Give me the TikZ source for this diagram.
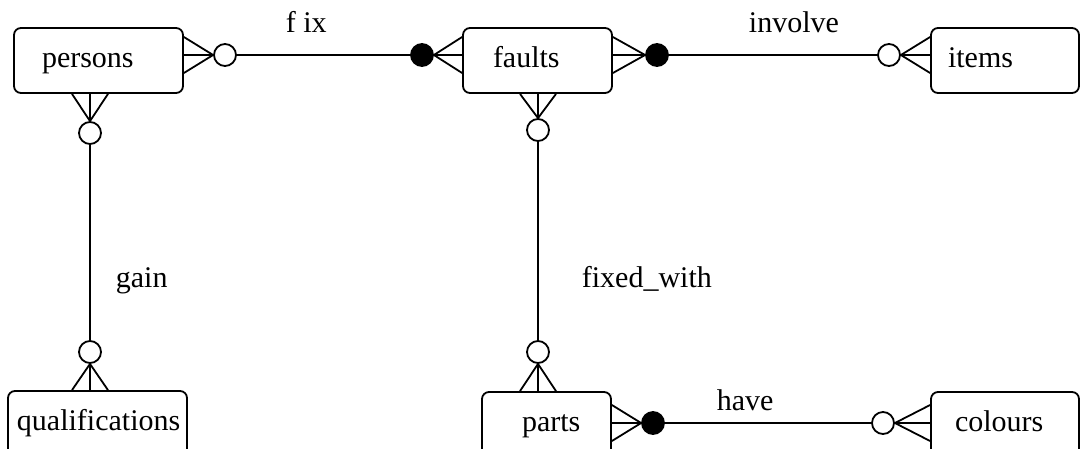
\documentclass[tikz,border=0pt]{standalone}
\usepackage{fontspec}
\setmainfont{Liberation Serif}
\usetikzlibrary{calc}

\tikzset{
  entity/.style={draw, rounded corners=7pt, minimum height=65pt, inner xsep=0pt,
    inner ysep=0pt, text width=#1, align=left,
    text height=21pt, text depth=7.5pt, font=\fontsize{30}{36}\selectfont},
  optend/.style={draw, circle, fill=white, minimum size=22pt, inner sep=0pt},
  mandend/.style={optend, fill=black},
  rel/.style={anchor=base west, inner sep=0pt, font=\fontsize{30}{36}\selectfont},
}

\begin{document}
\begin{tikzpicture}[x=1pt, y=-1pt, line width=1.8pt]
\useasboundingbox (0,0) rectangle (1086,448);

% entities
\node[entity=169pt] (persons) at (98.5,60.5) {\hspace*{28pt}persons};
\node[entity=149pt] (faults) at (537.5,60.5) {\hspace*{30pt}faults};
\node[entity=148pt] (items) at (1005,60.5) {\hspace*{17pt}items};
\node[entity=179pt] (qualifications) at (97.5,423.5) {\hspace*{9pt}qualifications};
\node[entity=129pt] (parts) at (546.5,424.5) {\hspace*{40pt}parts};
\node[entity=148pt] (colours) at (1005,424.5) {\hspace*{24pt}colours};

% ends of the relationships
\node[optend] (fixP) at (225,55) {};
\node[mandend] (fixF) at (422,55) {};
\node[mandend] (invF) at (657,55) {};
\node[optend] (invI) at (889,55) {};
\node[optend] (gainP) at (90,133) {};
\node[optend] (gainQ) at (90,352) {};
\node[optend] (fwF) at (538,130) {};
\node[optend] (fwP) at (538,352) {};
\node[mandend] (havP) at (653,423) {};
\node[optend] (havC) at (883,423) {};

\draw (fixP) -- (fixF);
\draw (invF) -- (invI);
\draw (gainP) -- (gainQ);
\draw (fwF) -- (fwP);
\draw (havP) -- (havC);

% crow's feet
\foreach \b/\c in {persons.east/fixP.west, faults.west/fixF.east, faults.east/invF.west,
  items.west/invI.east, parts.east/havP.west, colours.west/havC.east}
  \foreach \d in {-18,0,18} \draw ($(\b |- \c)+(0,\d)$) -- (\c);
\foreach \b/\c in {persons.south/gainP.north, qualifications.north/gainQ.south,
  faults.south/fwF.north, parts.north/fwP.south}
  \foreach \d in {-18,0,18} \draw ($(\b -| \c)+(\d,0)$) -- (\c);

% relationship names
\node[rel] (fixL) at (285,32) {f ix};
\node[rel] (involveL) at (748,32) {involve};
\node[rel] (gainL) at (115,287) {gain};
\node[rel] (fixedwithL) at (581,287) {fixed\_with};
\node[rel] (haveL) at (716,410) {have};
\end{tikzpicture}
\end{document}
